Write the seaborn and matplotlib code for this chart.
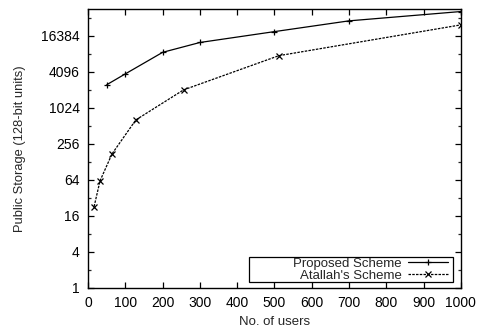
import matplotlib
matplotlib.use("Agg")
import matplotlib.pyplot as plt
import numpy as np
import pandas as pd
import seaborn as sns
from matplotlib.patches import Rectangle

# values (log2 y-axis)
proposed_users = [50, 100, 200, 300, 500, 700, 1000]
proposed_storage = [2500, 3800, 8700, 12700, 19300, 29200, 41800]
atallah_users = [16, 32, 64, 128, 256, 512, 1000]
atallah_storage = [23, 62, 174, 645, 2048, 7650, 25000]
y_tick_values = [1, 4, 16, 64, 256, 1024, 4096, 16384]

sns.set_theme(style="ticks")
plt.rcParams["font.family"] = ["Liberation Sans", "DejaVu Sans"]
plt.rcParams["font.size"] = 10

proposed = pd.DataFrame({"users": proposed_users, "storage": proposed_storage})
atallah = pd.DataFrame({"users": atallah_users, "storage": atallah_storage})

fig = plt.figure(figsize=(4.79, 3.28), dpi=100)
ax = fig.add_axes([0.184, 0.122, 0.778, 0.851])

sns.lineplot(data=proposed, x="users", y="storage", ax=ax, color="black",
             linewidth=0.9, marker="+", markersize=5, markeredgewidth=0.9,
             markeredgecolor="black", label="Proposed Scheme")
sns.lineplot(data=atallah, x="users", y="storage", ax=ax, color="black",
             linewidth=0.9, linestyle=(0, (2, 1)), marker="x", markersize=4,
             markeredgewidth=0.9, markeredgecolor="black",
             label="Atallah's Scheme")

ax.set_yscale("log", base=2)
ax.set_xlim(0, 1000)
ax.set_ylim(1, 2 ** 15.5)
ax.set_xticks(np.arange(0, 1001, 100))
ax.set_yticks(y_tick_values)
ax.set_yticklabels([str(v) for v in y_tick_values])
ax.set_yticks([2 ** k for k in range(1, 16, 2)], minor=True)
ax.yaxis.set_minor_formatter(matplotlib.ticker.NullFormatter())
ax.tick_params(axis="both", which="major", direction="in", length=4, width=0.9,
               top=True, right=True, labelsize=10, colors="black", pad=6)
ax.tick_params(axis="y", which="minor", direction="in", length=2, width=0.9,
               right=True)
ax.tick_params(axis="x", which="minor", bottom=False, top=False)
for side in ax.spines.values():
    side.set_linewidth(1.0)
    side.set_color("black")

ax.set_xlabel("No. of users", fontsize=9.5, labelpad=4)
ax.set_ylabel("Public Storage (128-bit units)", fontsize=9.3, labelpad=11)

# gnuplot-style key: wide box, right-aligned text followed by sample
ax.add_patch(Rectangle((0.432, 0.0215), 0.547, 0.0896, transform=ax.transAxes,
                       facecolor="white", edgecolor="black", linewidth=0.9,
                       zorder=4))
leg = ax.legend(loc="lower right", bbox_to_anchor=(0.965, 0.022),
                markerfirst=False, frameon=False, fontsize=9.5,
                handlelength=3.0, borderpad=0.0, labelspacing=0.0,
                borderaxespad=0.0, handletextpad=0.5)
leg.set_zorder(5)

fig.savefig("out.png", dpi=100)
